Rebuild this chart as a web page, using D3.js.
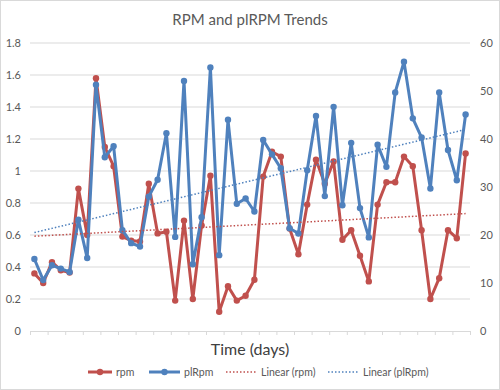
<!DOCTYPE html>
<meta charset="utf-8">
<script src="https://d3js.org/d3.v7.min.js"></script>
<style>
  body { margin: 0; background: #fff; }
  text { font-family: Lato, "Open Sans", sans-serif; }
</style>
<div id="chart"></div>
<script>
// Data
var days = d3.range(1, 51);
var rpm = [0.36, 0.30, 0.43, 0.38, 0.365, 0.89, 0.60, 1.58, 1.15, 1.03,
           0.59, 0.565, 0.56, 0.92, 0.61, 0.62, 0.19, 0.69, 0.20, 0.66,
           0.97, 0.12, 0.28, 0.19, 0.22, 0.32, 0.965, 1.12, 1.09, 0.64,
           0.48, 0.79, 1.07, 0.92, 1.06, 0.57, 0.63, 0.47, 0.31, 0.79,
           0.93, 0.93, 1.09, 1.03, 0.63, 0.20, 0.33, 0.63, 0.58, 1.11];
var plRpm = [15.0, 10.6, 13.7, 13.0, 12.3, 23.2, 15.2, 51.3, 36.2, 38.5,
             21.0, 18.3, 17.6, 28.0, 31.5, 41.2, 19.6, 52.1, 13.9, 23.7,
             54.9, 15.8, 44.0, 26.5, 27.6, 24.9, 39.8, 36.8, 33.9, 21.4,
             20.3, 33.5, 44.8, 28.1, 46.7, 26.2, 39.2, 25.6, 19.5, 38.8,
             34.2, 49.7, 56.1, 44.3, 40.3, 29.7, 49.7, 37.7, 31.4, 45.1];
var leftTicks = [0, 0.2, 0.4, 0.6, 0.8, 1, 1.2, 1.4, 1.6, 1.8];
var rightTicks = [0, 10, 20, 30, 40, 50, 60];
var legendLabels = ["rpm", "plRpm", "Linear (rpm)", "Linear (plRpm)"];

var W = 500, H = 390;
var red = "#c0504d", blue = "#4f81bd", grey = "#595959", gridCol = "#d9d9d9";

var svg = d3.select("#chart").append("svg")
    .attr("width", W)
    .attr("height", H);

// chart border
svg.append("rect")
    .attr("x", 0.5).attr("y", 0.5)
    .attr("width", W - 1).attr("height", H - 1)
    .attr("fill", "#fff")
    .attr("stroke", gridCol);

// scales
var x = d3.scaleLinear().domain([0, days.length]).range([30, 470]);
var yL = d3.scaleLinear().domain([0, 1.8]).range([331, 43]);
var yR = d3.scaleLinear().domain([0, 60]).range([331, 43]);

// gridlines
svg.append("g")
  .selectAll("line")
  .data(leftTicks.slice(1))
  .enter()
  .append("line")
    .attr("x1", 30).attr("x2", 470)
    .attr("y1", function(d) { return yL(d); })
    .attr("y2", function(d) { return yL(d); })
    .attr("stroke", gridCol)
    .attr("stroke-width", 1);

// left axis
var gl = svg.append("g")
    .attr("transform", "translate(30,0)")
    .call(d3.axisLeft(yL).tickValues(leftTicks).tickSize(0).tickPadding(9)
      .tickFormat(d3.format("~g")));
gl.select(".domain").remove();
gl.selectAll("text").attr("fill", grey).style("font-size", "11px");

// right axis
var gr = svg.append("g")
    .attr("transform", "translate(470,0)")
    .call(d3.axisRight(yR).tickValues(rightTicks).tickSize(0).tickPadding(10));
gr.select(".domain").remove();
gr.selectAll("text").attr("fill", grey).style("font-size", "11px");

// bottom axis (tick every 2 days, no labels)
var gb = svg.append("g")
    .attr("transform", "translate(0,331)")
    .call(d3.axisBottom(x).tickValues(d3.range(0, days.length + 1, 2))
      .tickSize(4).tickFormat(""));
gb.select(".domain").attr("stroke", gridCol);
gb.selectAll(".tick line").attr("stroke", gridCol);

// linear trend lines
function fit(vals) {
  var xs = vals.map(function(v, i) { return i + 1; });
  var mx = d3.mean(xs), my = d3.mean(vals);
  var sxy = d3.sum(xs, function(xi, i) { return (xi - mx) * (vals[i] - my); });
  var sxx = d3.sum(xs, function(xi) { return (xi - mx) * (xi - mx); });
  var b = sxy / sxx;
  return function(t) { return my + b * (t - mx); };
}

function drawSeries(vals, y, color) {
  var line = d3.line()
      .x(function(d, i) { return x(i + 0.5); })
      .y(function(d) { return y(d); });
  svg.append("path")
      .datum(vals)
      .attr("d", line)
      .attr("fill", "none")
      .attr("stroke", color)
      .attr("stroke-width", 3)
      .attr("stroke-linejoin", "round");
  svg.append("g")
    .selectAll("circle")
    .data(vals)
    .enter()
    .append("circle")
      .attr("cx", function(d, i) { return x(i + 0.5); })
      .attr("cy", function(d) { return y(d); })
      .attr("r", 3.2)
      .attr("fill", color);
}

function drawTrend(vals, y, color) {
  var f = fit(vals);
  var n = vals.length;
  svg.append("line")
      .attr("x1", x(0.5)).attr("x2", x(n - 0.5))
      .attr("y1", y(f(1))).attr("y2", y(f(n)))
      .attr("stroke", color)
      .attr("stroke-width", 1.5)
      .attr("stroke-dasharray", "1.5,2");
}

drawSeries(rpm, yL, red);
drawSeries(plRpm, yR, blue);
drawTrend(rpm, yL, red);
drawTrend(plRpm, yR, blue);

// title
svg.append("text")
    .attr("x", 250).attr("y", 25)
    .attr("text-anchor", "middle")
    .attr("fill", grey)
    .style("font-size", "15px")
    .text("RPM and plRPM Trends");

// x axis title
svg.append("text")
    .attr("x", 250).attr("y", 355)
    .attr("text-anchor", "middle")
    .attr("fill", "#404040")
    .style("font-size", "16px")
    .text("Time (days)");

// legend
var legendX = [88, 149, 226, 328];
var legendW = [24, 31, 31, 31];
var legendCol = [red, blue, red, blue];
var leg = svg.append("g");
legendLabels.forEach(function(lbl, i) {
  var ly = 372;
  var ln = leg.append("line")
      .attr("x1", legendX[i]).attr("x2", legendX[i] + legendW[i])
      .attr("y1", ly).attr("y2", ly)
      .attr("stroke", legendCol[i]);
  if (i < 2) {
    ln.attr("stroke-width", 3);
    leg.append("circle")
        .attr("cx", legendX[i] + legendW[i] / 2).attr("cy", ly)
        .attr("r", 3.2).attr("fill", legendCol[i]);
  } else {
    ln.attr("stroke-width", 1.5).attr("stroke-dasharray", "1.5,2");
  }
  leg.append("text")
      .attr("x", legendX[i] + legendW[i] + 4).attr("y", ly + 4)
      .attr("fill", grey)
      .style("font-size", "10.5px")
      .text(lbl);
});
</script>
